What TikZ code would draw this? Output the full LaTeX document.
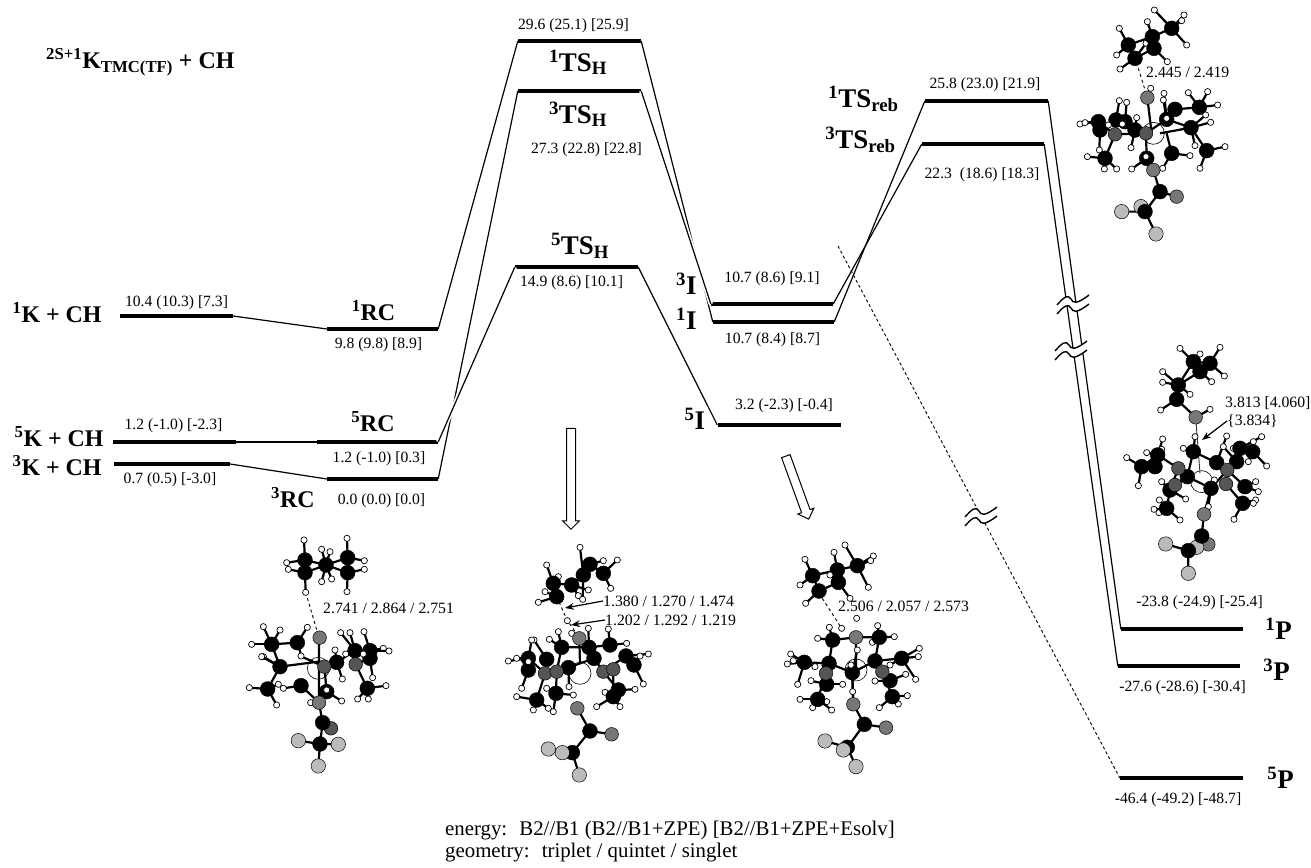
\documentclass[tikz,border=0pt]{standalone}
\usepackage{fontspec}
\setmainfont{Liberation Serif}
\usetikzlibrary{positioning,arrows.meta,shapes.arrows}
\definecolor{natomgray}{HTML}{555555}
\definecolor{oatomgray}{HTML}{777777}
\definecolor{fatomgray}{HTML}{BBBBBB}
\newcommand{\up}[1]{\textsuperscript{#1}}
% methyl/methylene group: carbon at #1, hydrogens at #2
\newcommand{\chgrp}[2]{%
  \foreach \p in {#2}{\draw[bond] (#1)--\p; \draw[hatom] \p circle;}
  \draw[catom] (#1) circle;}
\newcommand{\atoms}[2]{\foreach \p in {#2}{\draw[#1] \p circle;}}
\tikzset{
  breakmark/.pic={
    \fill[white] (-16,4) .. controls (-9,-4) and (-5,-7) .. (-2,-2) .. controls (0,2) and (3,4) .. (16,-6)
      -- (16,3) .. controls (3,13) and (0,11) .. (-2,7) .. controls (-5,2) and (-9,5) .. (-16,13) -- cycle;
    \draw[line width=1.4bp] (-16,4) .. controls (-9,-4) and (-5,-7) .. (-2,-2) .. controls (0,2) and (3,4) .. (16,-6);
    \draw[line width=1.4bp] (-16,13) .. controls (-9,5) and (-5,2) .. (-2,7) .. controls (0,11) and (3,13) .. (16,3);
  }
}
\begin{document}
\begin{tikzpicture}[x=1bp,y=-1bp,
    level/.style={fill=black, inner sep=0pt, minimum height=4.4bp, minimum width=123bp},
    vallabel/.style={inner sep=0pt, font=\fontsize{15.7}{17}\selectfont},
    distlabel/.style={inner sep=0pt, anchor=west, font=\fontsize{15.8}{17}\selectfont},
    biglabel/.style={inner sep=0pt, font=\fontsize{24}{26}\bfseries\selectfont},
    biggerlabel/.style={inner sep=0pt, font=\fontsize{27}{29}\bfseries\selectfont},
    conn/.style={line width=1.2bp},
    halo/.style={preaction={draw=white, line width=4.5bp}},
    hollowarrow/.style={single arrow, draw=black, fill=white, line width=1bp, inner sep=0pt,
      minimum height=101bp, single arrow head extend=4bp},
    bond/.style={line width=2.2bp},
    hatom/.style={draw=black, fill=white, line width=.7bp, radius=3.1bp},
    catom/.style={draw=black, fill=black, line width=.5bp, radius=7.4bp},
    natom/.style={draw=black, fill=natomgray, line width=.5bp, radius=6.8bp},
    oatom/.style={draw=black, fill=oatomgray, line width=.5bp, radius=6.8bp},
    fatom/.style={draw=black, fill=fatomgray, line width=.5bp, radius=7.2bp},
    featom/.style={draw=black, fill=white, line width=.6bp, radius=11bp},
    mol/.style={x=.3333bp, y=-.3333bp}]
  \useasboundingbox (0,0) rectangle (1311,867);

  % levels
  \node[level, minimum width=113bp] (k1) at (176.5,316) {};
  \node[level] (k5) at (174.5,442) {};
  \node[level, minimum width=116bp] (k3) at (172,464) {};
  \node[level, minimum width=111bp] (rc1) at (382.5,329) {};
  \node[level, minimum width=121bp] (rc5) at (377.5,442) {};
  \node[level, minimum width=111bp] (rc3) at (382.5,479) {};
  \node[level] (ts1) at (579.5,41) {};
  \node[level] (ts3) at (579.5,91) {};
  \node[level] (ts5) at (576.5,267) {};
  \node[level, minimum width=122bp] (i3) at (772,304) {};
  \node[level, minimum width=121bp] (i1) at (773.5,322) {};
  \node[level] (i5) at (779,425) {};
  \node[level] (reb1) at (986.5,101) {};
  \node[level, minimum width=122bp] (reb3) at (983,144) {};
  \node[level, minimum width=122bp] (p1) at (1182,629) {};
  \node[level, minimum width=122bp] (p3) at (1179,666) {};
  \node[level] (p5) at (1181.5,778) {};
  \coordinate (dashstart) at (838,246);

  % connectors
  \draw[conn] (k1.east)--(rc1.west);
  \draw[conn] (k5.east)--(rc5.west);
  \draw[conn] (k3.east)--(rc3.west);
  \draw[conn] (rc1.east)--(ts1.west);
  \draw[conn] (rc3.east)--(ts3.west);
  \draw[conn, halo] (rc5.east)--(ts5.west);
  \draw[conn] (ts1.east)--(i1.west);
  \draw[conn, halo] (ts3.east)--(i3.west);
  \draw[conn] (ts5.east)--(i5.west);
  \draw[conn] (i1.east)--(reb1.west);
  \draw[conn] (i3.east)--(reb3.west);
  \draw[conn] (reb1.east)--(p1.west);
  \draw[conn] (reb3.east)--(p3.west);
  \draw[line width=.9bp, dash pattern=on 3bp off 2.5bp] (dashstart)--(p5.west);
  \pic at (1073,301) {breakmark};
  \pic at (1071,347) {breakmark};
  \pic at (981,513) {breakmark};

  % big labels
  \node[biglabel, anchor=west] (title) at (46,62) {\up{2S+1}K\textsubscript{TMC(TF)} + CH};
  \node[biglabel, left=18bp of k1, yshift=3bp] (lk1) {\up{1}K + CH};
  \node[biglabel, left=9bp of k5, yshift=5bp] (lk5) {\up{5}K + CH};
  \node[biglabel, left=12bp of k3, yshift=-2bp] (lk3) {\up{3}K + CH};
  \node[biglabel, above=6bp of rc1, xshift=-9bp] (lrc1) {\up{1}RC};
  \node[biglabel, above=8bp of rc5, xshift=-4.5bp] (lrc5) {\up{5}RC};
  \node[biglabel, left=12bp of rc3, yshift=-19bp] (lrc3) {\up{3}RC};
  \node[biggerlabel, below=6bp of ts1, xshift=-1.5bp] (lts1) {\up{1}TS\textsubscript{H}};
  \node[biggerlabel, below=8bp of ts3, xshift=-1.5bp] (lts3) {\up{3}TS\textsubscript{H}};
  \node[biggerlabel, above=6bp of ts5, xshift=3.5bp] (lts5) {\up{5}TS\textsubscript{H}};
  \node[biggerlabel, left=14bp of i3, yshift=20bp] (li3) {\up{3}I};
  \node[biggerlabel, left=16bp of i1, yshift=3bp] (li1) {\up{1}I};
  \node[biggerlabel, left=12bp of i5, yshift=6bp] (li5) {\up{5}I};
  \node[biggerlabel, left=26bp of reb1, yshift=2bp] (lreb1) {\up{1}TS\textsubscript{reb}};
  \node[biggerlabel, left=26bp of reb3, yshift=4bp] (lreb3) {\up{3}TS\textsubscript{reb}};
  \node[biggerlabel, right=22bp of p1] (lp1) {\up{1}P};
  \node[biggerlabel, right=23bp of p3, yshift=-4bp] (lp3) {\up{3}P};
  \node[biggerlabel, right=24bp of p5] (lp5) {\up{5}P};

  % energies
  \node[vallabel, above=3.5bp of k1] (vk1) {10.4 (10.3) [7.3]};
  \node[vallabel, above=6.8bp of k5, xshift=-1bp] (vk5) {1.2 (-1.0) [-2.3]};
  \node[vallabel, below=5.8bp of k3, xshift=-2bp] (vk3) {0.7 (0.5) [-3.0]};
  \node[vallabel, below=5.8bp of rc1, xshift=-4bp] (vrc1) {9.8 (9.8) [8.9]};
  \node[vallabel, below=6.8bp of rc5, xshift=1.5bp] (vrc5) {1.2 (-1.0) [0.3]};
  \node[vallabel, below=11.8bp of rc3, xshift=-1bp] (vrc3) {0.0 (0.0) [0.0]};
  \node[vallabel, above=5.8bp of ts1, xshift=-6bp] (vts1) {29.6 (25.1) [25.9]};
  \node[vallabel, below=48.8bp of ts3, xshift=7bp] (vts3) {27.3 (22.8) [22.8]};
  \node[vallabel, below=6bp of ts5, xshift=-5bp] (vts5) {14.9 (8.6) [10.1]};
  \node[vallabel, above=15.8bp of i3] (vi3) {10.7 (8.6) [9.1]};
  \node[vallabel, below=7.8bp of i1, xshift=-1bp] (vi1) {10.7 (8.4) [8.7]};
  \node[vallabel, above=10bp of i5, xshift=5bp] (vi5) {3.2 (-2.3) [-0.4]};
  \node[vallabel, above=6.8bp of reb1, xshift=-1.5bp] (vreb1) {25.8 (23.0) [21.9]};
  \node[vallabel, below=20.8bp of reb3, xshift=-1bp] (vreb3) {22.3~ (18.6) [18.3]};
  \node[vallabel, above=16.8bp of p1, xshift=17.5bp] (vp1) {-23.8 (-24.9) [-25.4]};
  \node[vallabel, below=11.8bp of p3, xshift=3.5bp] (vp3) {-27.6 (-28.6) [-30.4]};
  \node[vallabel, below=11.8bp of p5, xshift=-3.5bp] (vp5) {-46.4 (-49.2) [-48.7]};

  % bond lengths
  \node[distlabel] (dist1) at (323,608) {2.741 / 2.864 / 2.751};
  \node[distlabel] (dist2a) at (603,601) {1.380 / 1.270 / 1.474};
  \node[distlabel] (dist2b) at (605,620) {1.202 / 1.292 / 1.219};
  \node[distlabel] (dist3) at (838,606) {2.506 / 2.057 / 2.573};
  \node[distlabel] (dist4) at (1146,72) {2.445 / 2.419};
  \node[distlabel] (dist5a) at (1225,403) {3.813 [4.060]};
  \node[distlabel] (dist5b) at (1227,421) {\{3.834\}};
  \coordinate (tip2a) at (565,608);
  \coordinate (tip2b) at (571,625);
  \coordinate (tip5) at (1202,440);
  \draw[conn, -{Stealth[length=9bp]}] (dist2a.west)--(tip2a);
  \draw[conn, -{Stealth[length=9bp]}] (dist2b.west)--(tip2b);
  \draw[conn, -{Stealth[length=9bp]}] (dist5b.west)--(tip5);

  % hollow arrows
  \node[hollowarrow, rotate=-90] (arrowts) at (571,476.5) {\rule{0pt}{8bp}};
  \node[hollowarrow, rotate=-70, minimum height=67bp] (arrowint) at (796.5,485.5) {\rule{0pt}{8bp}};

  % footer
  \node[inner sep=0pt, anchor=west, font=\fontsize{20.9}{22}\selectfont] (legenda) at (445,831)
    {energy:~ B2//B1 (B2//B1+ZPE) [B2//B1+ZPE+Esolv]};
  \node[inner sep=0pt, anchor=west, font=\fontsize{20.9}{22}\selectfont] (legendb) at (445,853)
    {geometry:~ triplet / quintet / singlet};

  % RC molecule
  \begin{scope}[shift={(220,530)},mol]
    \draw[featom] (295,415) circle;
    \draw[bond] (255,90)--(318,105)--(383,83)--(383,128)--(318,105)--(255,128)--(255,90);
    \draw[line width=.9bp, dashed] (257,187)--(297,323);
    \draw[bond] (155,343)--(232,338)--(245,380)--(313,410)--(350,397)--(405,362)--(450,362)--(450,385)--(407,403)--(442,475);
    \draw[bond] (155,343)--(180,410)--(143,477) (180,410)--(295,395) (243,467)--(297,518);
    \draw[bond] (407,403)--(405,362) (313,410)--(320,485) (297,323)--(297,518)--(308,578)--(300,642);
    \draw[bond] (300,642)--(235,632) (300,642)--(355,643) (300,642)--(295,708);
    \chgrp{255,90}{(252,30),(200,98)}
    \chgrp{255,128}{(205,118),(257,187)}
    \chgrp{383,83}{(381,25),(433,92)}
    \chgrp{383,128}{(433,118),(381,185)}
    \chgrp{318,105}{(305,58),(330,65),(305,155),(335,147)}
    \chgrp{155,343}{(130,290),(180,300),(95,343)}
    \chgrp{232,338}{(262,292)}
    \chgrp{180,410}{(130,380),(125,380)}
    \chgrp{143,477}{(88,473),(170,525),(175,463)}
    \chgrp{243,467}{(190,475)}
    \chgrp{320,485}{(365,513),(272,518)}
    \chgrp{350,397}{(345,360),(367,447)}
    \chgrp{405,362}{(362,308),(390,308)}
    \chgrp{450,362}{(432,305),(490,355),(507,363)}
    \chgrp{450,385}{(458,443)}
    \chgrp{442,475}{(498,467),(413,507),(445,507)}
    \atoms{hatom}{(243,378),(320,480),(377,372),(430,372)}
    \atoms{natom}{(313,410),(407,403)}
    \atoms{oatom}{(299,323),(297,518)}
    \draw[natom] (333,595) circle;
    \chgrp{308,578}{}
    \chgrp{300,642}{}
    \atoms{fatom}{(235,632),(355,643),(295,708)}
  \end{scope}

  % TS molecule
  \begin{scope}[shift={(490,530)},mol]
    \draw[featom] (270,430) circle;
    \draw[bond] (200,200)--(190,160)--(245,165)--(280,135)--(300,103)--(340,130);
    \draw[line width=.9bp, dashed] (200,200)--(232,272)--(268,322);
    \draw[bond] (215,352)--(297,352)--(360,345) (297,352)--(312,385)--(340,425)--(408,378)--(432,405) (235,413)--(165,430)--(115,385)--(115,420);
    \draw[bond] (215,352)--(200,425)--(198,490) (165,430)--(140,510) (235,413)--(312,385) (340,425)--(385,480) (370,418)--(370,500) (268,325)--(270,400);
    \draw[bond] (262,535)--(300,603)--(365,613) (300,603)--(247,668) (247,668)--(175,657) (247,668)--(268,735);
    \chgrp{190,160}{(170,105),(205,140)}
    \chgrp{200,200}{(145,217),(165,185)}
    \chgrp{245,165}{(265,197),(295,180)}
    \chgrp{280,135}{(270,52),(278,208)}
    \chgrp{300,103}{(340,92)}
    \chgrp{340,130}{(382,90),(362,175)}
    \chgrp{215,352}{(205,305),(178,328)}
    \chgrp{297,352}{(295,295),(245,310)}
    \chgrp{360,345}{(355,297),(410,340)}
    \chgrp{312,385}{}
    \chgrp{235,413}{(237,470)}
    \chgrp{170,388}{(132,330)}
    \chgrp{115,385}{(125,330),(55,393),(80,385)}
    \chgrp{115,420}{(95,475)}
    \chgrp{408,378}{(475,372)}
    \chgrp{432,405}{(450,378),(460,462)}
    \chgrp{140,510}{(80,500),(130,540),(175,535)}
    \chgrp{198,490}{(250,495),(190,545),(170,475)}
    \chgrp{385,480}{(345,487),(435,478)}
    \chgrp{370,500}{(320,530),(390,530)}
    \atoms{hatom}{(232,272),(115,395)}
    \atoms{natom}{(165,430),(200,425),(340,425),(370,418)}
    \atoms{oatom}{(268,325),(262,535),(365,613)}
    \chgrp{300,603}{}
    \chgrp{247,668}{}
    \atoms{fatom}{(175,657),(217,668),(268,735)}
  \end{scope}

  % intermediate molecule
  \begin{scope}[shift={(750,530)},mol]
    \draw[featom] (318,420) circle;
    \draw[bond] (188,137)--(207,183)--(265,157)--(262,120)--(188,137) (262,120)--(322,107);
    \draw[line width=.9bp, dashed] (207,190)--(275,295);
    \draw[bond] (248,330)--(318,322)--(388,322) (318,322)--(318,420) (248,330)--(237,400)--(307,428)--(375,393)--(388,322);
    \draw[bond] (237,400)--(163,397) (228,430)--(203,508) (375,393)--(455,385) (397,425)--(427,500) (307,428)--(310,523);
    \draw[bond] (310,523)--(343,583)--(408,593) (343,583)--(292,652) (292,652)--(225,633) (292,652)--(318,710);
    \chgrp{188,137}{(165,88),(150,165)}
    \chgrp{207,183}{(167,220)}
    \chgrp{262,120}{(252,67)}
    \chgrp{265,157}{(300,205),(240,135)}
    \chgrp{322,107}{(285,45),(370,78),(362,92),(355,172)}
    \chgrp{248,330}{(238,292),(203,325),(240,342)}
    \chgrp{388,322}{(383,287),(433,320),(367,337)}
    \chgrp{237,400}{}
    \chgrp{375,393}{}
    \chgrp{307,428}{(308,485),(322,360)}
    \chgrp{163,397}{(122,372),(112,402),(130,392),(143,463),(195,410)}
    \chgrp{455,385}{(508,355),(505,380),(497,448),(420,405)}
    \chgrp{230,463}{(183,452),(278,463)}
    \chgrp{203,508}{(150,508),(230,515),(188,533),(245,540)}
    \chgrp{420,452}{(375,453),(467,433)}
    \chgrp{427,500}{(472,497),(388,533),(445,522)}
    \atoms{hatom}{(275,295),(320,265),(303,405)}
    \atoms{natom}{(228,430),(397,425)}
    \atoms{oatom}{(318,322),(310,523),(408,593)}
    \chgrp{343,583}{}
    \chgrp{292,652}{}
    \atoms{fatom}{(225,633),(280,660),(318,710)}
  \end{scope}

  % rebound TS molecule
  \begin{scope}[shift={(1060,0)},mol]
    \draw[featom] (280,400) circle;
    \draw[bond] (205,135)--(225,175)--(282,145)--(277,110)--(205,135) (277,110)--(335,85);
    \draw[line width=.9bp, dashed] (235,205)--(262,293);
    \draw[bond] (262,293)--(275,400) (165,403)--(258,400)--(320,358)--(345,328)--(418,322) (320,358)--(393,383)--(440,452) (300,400)--(393,383);
    \draw[bond] (115,365)--(165,403)--(135,475) (258,400)--(260,475)--(280,510) (320,400)--(335,460)--(308,505);
    \draw[bond] (280,510)--(300,575)--(350,590) (300,575)--(255,635) (255,635)--(185,635) (255,635)--(288,702);
    \chgrp{205,135}{(178,85),(170,165)}
    \chgrp{225,175}{(180,207),(258,130)}
    \chgrp{277,110}{(262,65)}
    \chgrp{282,145}{(322,185)}
    \chgrp{335,85}{(283,30),(372,45),(365,62),(380,135)}
    \chgrp{115,365}{(60,372),(75,368)}
    \chgrp{120,390}{(118,450)}
    \chgrp{168,360}{(178,302)}
    \chgrp{195,365}{(200,307)}
    \chgrp{225,390}{(230,353),(213,443)}
    \chgrp{135,475}{(82,470),(133,507),(170,507)}
    \chgrp{260,475}{(215,507)}
    \chgrp{335,460}{(390,467)}
    \chgrp{320,358}{(312,280),(310,300)}
    \chgrp{345,328}{}
    \chgrp{418,322}{(385,278),(443,275),(473,315)}
    \chgrp{393,383}{(437,345),(452,367),(405,437)}
    \chgrp{440,452}{(495,440),(420,505)}
    \atoms{hatom}{(272,265),(258,470),(320,355),(308,505),(145,375),(187,372)}
    \atoms{natom}{(258,400),(165,403)}
    \atoms{oatom}{(262,293),(280,510),(350,590)}
    \chgrp{300,575}{}
    \atoms{fatom}{(243,620)}
    \chgrp{255,635}{}
    \atoms{fatom}{(185,635),(288,702)}
  \end{scope}

  % product molecule
  \begin{scope}[shift={(1090,340)},mol]
    \draw[featom] (335,425) circle;
    \draw[bond] (310,65)--(360,70)--(330,95)--(265,135)--(260,178)--(317,232) (310,65)--(265,135);
    \draw[line width=.9bp, draw=black!80] (317,232)--(330,400);
    \draw[bond] (203,345)--(265,385)--(292,410)--(310,335)--(380,368)--(412,390)--(363,445)--(292,410) (155,380)--(203,345);
    \draw[bond] (265,385)--(240,450)--(230,505) (255,435)--(292,410) (412,390)--(465,440) (408,432)--(458,490) (440,365)--(412,390) (363,445)--(342,523);
    \draw[bond] (342,523)--(335,588)--(295,632) (295,632)--(227,612) (295,632)--(295,700);
    \chgrp{310,65}{(270,25),(330,42)}
    \chgrp{360,70}{(390,22),(403,108)}
    \chgrp{330,95}{(365,125)}
    \chgrp{265,135}{(218,95),(218,127),(300,163)}
    \chgrp{260,178}{(212,210)}
    \chgrp{310,335}{(315,290),(280,325)}
    \chgrp{380,368}{(410,288)}
    \chgrp{292,410}{}
    \chgrp{363,445}{(355,500),(373,420)}
    \chgrp{203,345}{(218,297),(215,328),(170,338)}
    \chgrp{155,380}{(110,353),(145,437)}
    \chgrp{195,380}{}
    \chgrp{450,325}{(430,325),(515,290)}
    \chgrp{488,335}{(490,305),(530,378),(475,365)}
    \chgrp{440,365}{(400,320)}
    \chgrp{465,440}{(497,425),(505,455)}
    \chgrp{458,490}{(497,480),(490,490),(432,538)}
    \chgrp{240,450}{(215,425),(287,477)}
    \chgrp{230,505}{(192,508),(207,518),(208,480),(270,540)}
    \draw[bond] (317,232)--(360,208);
    \atoms{hatom}{(360,208)}
    \atoms{natom}{(265,385),(255,435),(412,390),(408,432)}
    \atoms{oatom}{(317,232),(342,523),(355,613)}
    \atoms{fatom}{(320,622)}
    \chgrp{335,588}{}
    \chgrp{295,632}{}
    \atoms{fatom}{(227,612),(295,700)}
  \end{scope}
\end{tikzpicture}
\end{document}
